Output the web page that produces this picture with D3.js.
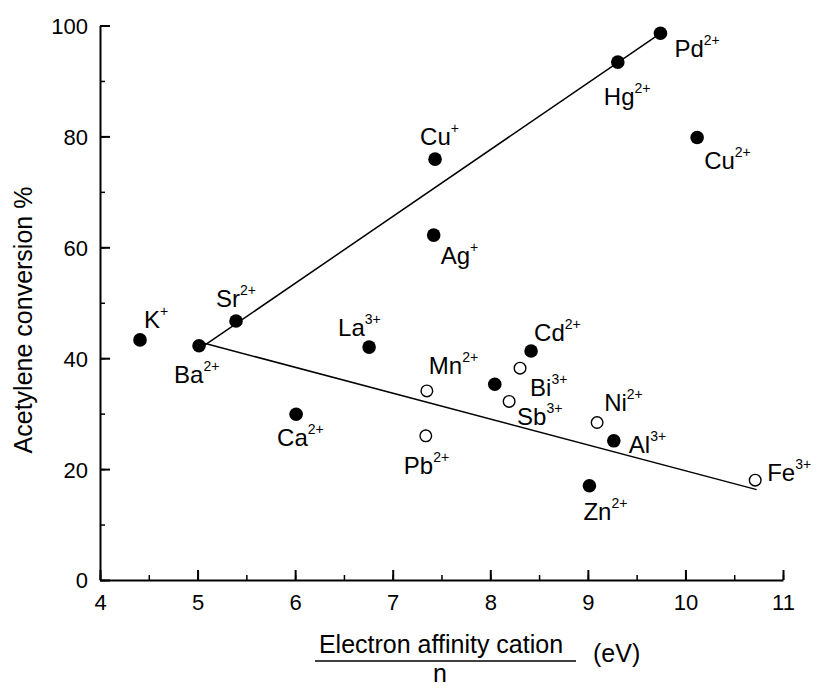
<!DOCTYPE html>
<html>
<head>
<meta charset="utf-8">
<script src="https://cdn.jsdelivr.net/npm/d3@7"></script>
<style>
  html, body { margin: 0; padding: 0; background: #fff; }
  svg { display: block; font-family: "Liberation Sans", Arial, sans-serif; }
</style>
</head>
<body>
<script>
// ---- data ----
const ions      = ["K","Sr","La","Ba","Ca","Pb","Mn","Cd","Bi","Sb","Ni","Al","Fe","Zn","Pd","Hg","Cu","Cu","Ag",""];
const charges   = ["+","2+","3+","2+","2+","2+","2+","2+","3+","3+","2+","3+","3+","2+","2+","2+","+","2+","+",""];
const affinity  = [4.41,5.394,6.758,5.015,6.01,7.339,7.35,8.418,8.305,8.193,9.095,9.266,10.715,9.016,9.744,9.307,7.434,10.12,7.42,8.046];
const conversion= [43.3,46.7,42.0,42.25,29.9,26.0,34.1,41.3,38.2,32.2,28.4,25.1,18.0,17.0,98.6,93.4,75.9,79.8,62.2,35.3];
const filled    = [true,true,true,true,true,false,false,true,false,false,false,true,false,true,true,true,true,true,true,true];
const upperLine = [[5.07,42.3],[9.744,98.6]];
const lowerLine = [[5.07,42.7],[10.73,16.3]];
const xTicks = [4,5,6,7,8,9,10,11];
const yTicks = [0,20,40,60,80,100];

// label placement offsets (px, relative to marker centre)
const labelDx = [4,-20,-31,-25,-19,-22,2,3,10,8,7,15,12,-6,14,-14,-15,7,7,0];
const labelDy = [-12,-14,-11,37,32,38,-17,-10,28,24,-12,12,1,34,24,43,-14,31,29,0];

const W = 813, H = 688;
const svg = d3.select("body").append("svg").attr("width", W).attr("height", H);

const x = d3.scaleLinear().domain([4, 11]).range([100, 783]);
const y = d3.scaleLinear().domain([0, 100]).range([580, 25.5]);

// minor ticks
const gx = svg.append("g").attr("transform", `translate(0,${y(0)})`);
gx.call(d3.axisBottom(x).tickValues(d3.range(4, 11.01, 0.5)).tickSize(-5).tickFormat(""));
gx.selectAll(".tick line").attr("stroke", "#000").attr("stroke-width", 1.5);
gx.select(".domain").remove();
const gy = svg.append("g").attr("transform", `translate(${x(4)},0)`);
gy.call(d3.axisLeft(y).tickValues(d3.range(0, 100.1, 10)).tickSize(-5).tickFormat(""));
gy.selectAll(".tick line").attr("stroke", "#000").attr("stroke-width", 1.5);
gy.select(".domain").remove();

// major ticks + axis lines
const gx2 = svg.append("g").attr("transform", `translate(0,${y(0)})`);
gx2.call(d3.axisBottom(x).tickValues(xTicks).tickSize(-10).tickSizeOuter(0).tickFormat(d3.format("d")));
gx2.select(".domain").attr("stroke", "#000").attr("stroke-width", 2);
gx2.selectAll(".tick line").attr("stroke", "#000").attr("stroke-width", 2);
gx2.selectAll(".tick text").attr("font-size", 22).attr("fill", "#000").attr("dy", 0).attr("y", 30);

const gy2 = svg.append("g").attr("transform", `translate(${x(4)},0)`);
gy2.call(d3.axisLeft(y).tickValues(yTicks).tickSize(-10).tickSizeOuter(0).tickFormat(d3.format("d")));
gy2.select(".domain").attr("stroke", "#000").attr("stroke-width", 2);
gy2.selectAll(".tick line").attr("stroke", "#000").attr("stroke-width", 2);
gy2.selectAll(".tick text").attr("font-size", 22).attr("fill", "#000").attr("x", -12).attr("dy", "0.36em");

// fit lines
const line = d3.line().x(d => x(d[0])).y(d => y(d[1]));
[upperLine, lowerLine].forEach(l => {
  svg.append("path").attr("d", line(l)).attr("fill", "none").attr("stroke", "#000").attr("stroke-width", 1.5);
});

// points
const pts = affinity.map((a, i) => ({a, c: conversion[i], f: filled[i], ion: ions[i], ch: charges[i], dx: labelDx[i], dy: labelDy[i]}));
svg.append("g").selectAll("circle").data(pts).join("circle")
  .attr("cx", d => x(d.a)).attr("cy", d => y(d.c))
  .attr("r", d => d.f ? 6.8 : 5.8)
  .attr("fill", d => d.f ? "#000" : "#fff")
  .attr("stroke", "#000").attr("stroke-width", d => d.f ? 0 : 1.4);

// labels
const lab = svg.append("g").selectAll("text").data(pts.filter(d => d.ion)).join("text")
  .attr("x", d => x(d.a) + d.dx).attr("y", d => y(d.c) + d.dy)
  .attr("font-size", 24).attr("fill", "#000");
lab.append("tspan").text(d => d.ion);
lab.append("tspan").attr("font-size", 14).attr("dy", -12).text(d => d.ch);

// y title
svg.append("text")
  .attr("transform", "translate(31.5,320) rotate(-90)")
  .attr("text-anchor", "middle").attr("font-size", 25).attr("fill", "#000")
  .text("Acetylene conversion %");

// x title as a fraction
svg.append("text").attr("x", 441).attr("y", 653).attr("text-anchor", "middle")
  .attr("font-size", 25).attr("fill", "#000").text("Electron affinity cation");
svg.append("line").attr("x1", 315).attr("x2", 576).attr("y1", 661).attr("y2", 661)
  .attr("stroke", "#000").attr("stroke-width", 1.5);
svg.append("text").attr("x", 440).attr("y", 682).attr("text-anchor", "middle")
  .attr("font-size", 25).attr("fill", "#000").text("n");
svg.append("text").attr("x", 593).attr("y", 662)
  .attr("font-size", 25).attr("fill", "#000").text("(eV)");
</script>
</body>
</html>
